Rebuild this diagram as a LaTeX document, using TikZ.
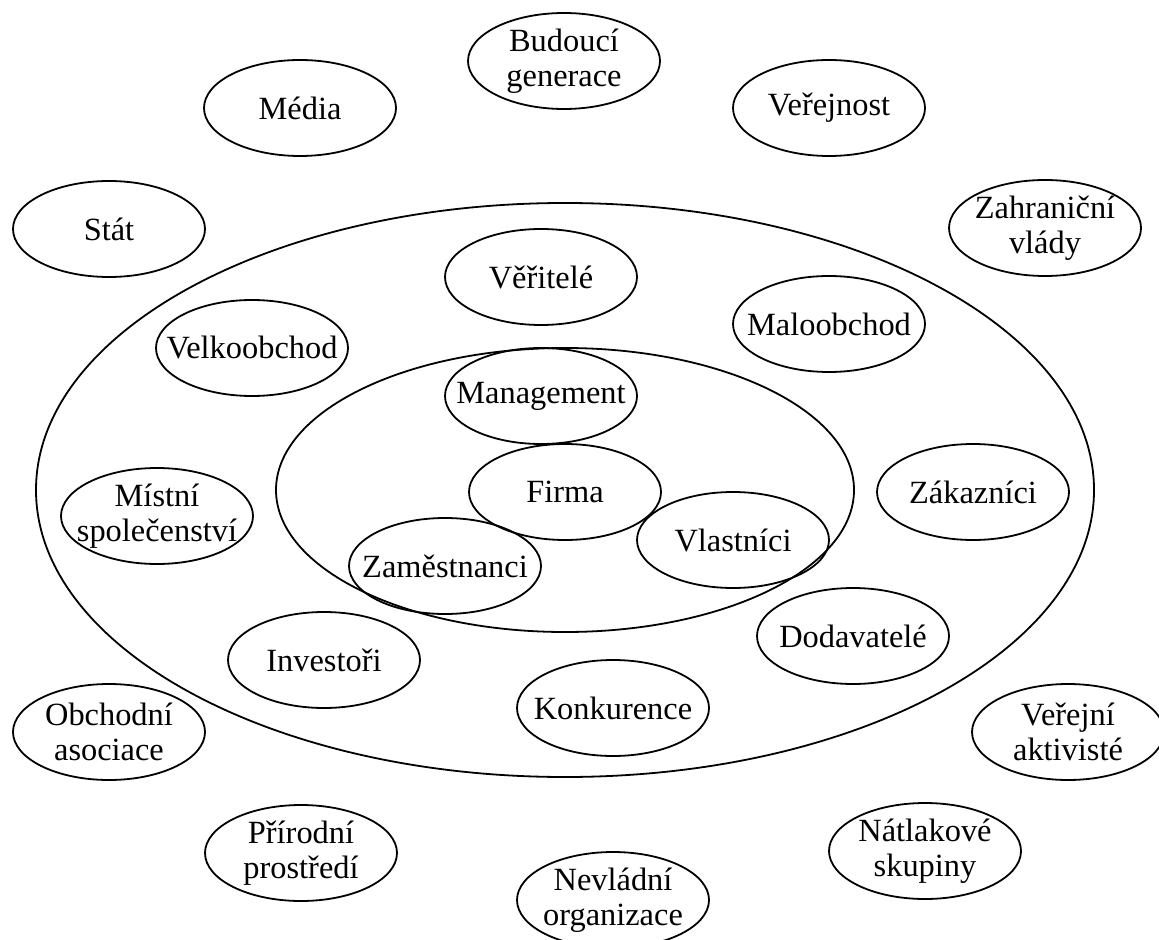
\documentclass[tikz,border=0pt]{standalone}
\usepackage{fontspec}
\setmainfont{Liberation Serif}
\usetikzlibrary{shapes.geometric}
\begin{document}
\begin{tikzpicture}[x=0.5pt,y=-0.5pt,line width=0.9pt,
  kruh/.style={draw,ellipse,minimum width=96pt,minimum height=48pt,inner sep=-10pt,
    align=center,font=\fontsize{16.2}{17.5}\selectfont}]
\useasboundingbox (0,0) rectangle (1159,940);
% vnejsi a vnitrni okoli firmy
\draw (565,490) ellipse [x radius=529,y radius=287];
\draw (565,490) ellipse [x radius=289,y radius=142];
% vnejsi
\node[kruh] (budouci) at (564,61) {Budoucí\\generace};
\node[kruh] (media) at (300,108) {Média};
\node[kruh] (verejnost) at (829,108) {Veřejnost};
\node[kruh] (stat) at (109,229) {Stát};
\node[kruh] (zahranicni) at (1045,228) {Zahraniční\\vlády};
\node[kruh] (obchodni) at (109,732) {Obchodní\\asociace};
\node[kruh] (aktiviste) at (1068,732) {Veřejní\\aktivisté};
\node[kruh] (prirodni) at (301,853) {Přírodní\\prostředí};
\node[kruh] (natlakove) at (925,851) {Nátlakové\\skupiny};
\node[kruh] (nevladni) at (613,900) {Nevládní\\organizace};
% stredni
\node[kruh] (veritele) at (541,277) {Věřitelé};
\node[kruh] (maloobchod) at (829,324) {Maloobchod};
\node[kruh] (velkoobchod) at (252,348) {Velkoobchod};
\node[kruh] (mistni) at (157,516) {Místní\\společenství};
\node[kruh] (zakaznici) at (973,492) {Zákazníci};
\node[kruh] (dodavatele) at (853,636) {Dodavatelé};
\node[kruh] (investori) at (324,660) {Investoři};
\node[kruh] (konkurence) at (613,708) {Konkurence};
% vnitrni
\node[kruh] (management) at (541,396) {Management};
\node[kruh] (firma) at (565,492) {Firma};
\node[kruh] (vlastnici) at (733,540) {Vlastníci};
\node[kruh] (zamestnanci) at (445,566) {Zaměstnanci};
\end{tikzpicture}
\end{document}
